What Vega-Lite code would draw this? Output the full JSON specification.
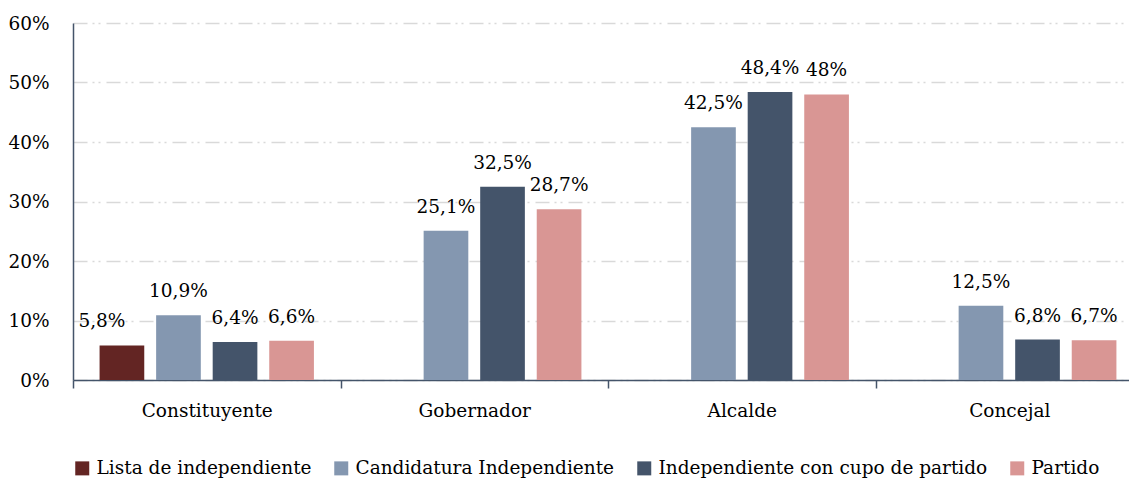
{
  "$schema": "https://vega.github.io/schema/vega-lite/v6.json",
  "width": 1056,
  "height": 357,
  "autosize": {"type": "none"},
  "padding": {"left": 73, "top": 23, "right": 0, "bottom": 98},
  "background": "white",
  "data": {
    "values": [
      {"cargo": "Constituyente", "tipo": "Lista de independiente", "pct": 0.058},
      {"cargo": "Constituyente", "tipo": "Candidatura Independiente", "pct": 0.109},
      {"cargo": "Constituyente", "tipo": "Independiente con cupo de partido", "pct": 0.064},
      {"cargo": "Constituyente", "tipo": "Partido", "pct": 0.066},
      {"cargo": "Gobernador", "tipo": "Candidatura Independiente", "pct": 0.251},
      {"cargo": "Gobernador", "tipo": "Independiente con cupo de partido", "pct": 0.325},
      {"cargo": "Gobernador", "tipo": "Partido", "pct": 0.287},
      {"cargo": "Alcalde", "tipo": "Candidatura Independiente", "pct": 0.425},
      {"cargo": "Alcalde", "tipo": "Independiente con cupo de partido", "pct": 0.484},
      {"cargo": "Alcalde", "tipo": "Partido", "pct": 0.48},
      {"cargo": "Concejal", "tipo": "Candidatura Independiente", "pct": 0.125},
      {"cargo": "Concejal", "tipo": "Independiente con cupo de partido", "pct": 0.068},
      {"cargo": "Concejal", "tipo": "Partido", "pct": 0.067}
    ]
  },
  "encoding": {
    "x": {
      "field": "cargo",
      "type": "nominal",
      "sort": ["Constituyente", "Gobernador", "Alcalde", "Concejal"],
      "scale": {"range": [0, 1070], "paddingInner": 0, "paddingOuter": 0},
      "axis": {
        "title": null,
        "labelAngle": 0,
        "labelFont": "DejaVu Serif",
        "labelFontSize": 18.5,
        "labelColor": "#000000",
        "labelPadding": 13,
        "domainColor": "#44546a",
        "domainWidth": 1.5,
        "tickColor": "#44546a",
        "tickWidth": 1.5,
        "tickSize": 8,
        "tickBand": "extent",
        "grid": false
      }
    },
    "xOffset": {
      "field": "tipo",
      "type": "nominal",
      "sort": ["Lista de independiente", "Candidatura Independiente", "Independiente con cupo de partido", "Partido"],
      "scale": {"paddingInner": 0.21, "paddingOuter": 0.47}
    },
    "y": {
      "field": "pct",
      "type": "quantitative",
      "scale": {"domain": [0, 0.6], "nice": false},
      "axis": {
        "title": null,
        "format": ".0%",
        "values": [0, 0.1, 0.2, 0.3, 0.4, 0.5, 0.6],
        "ticks": false,
        "labelPadding": 24,
        "labelFont": "DejaVu Serif",
        "labelFontSize": 18.5,
        "labelColor": "#000000",
        "domainColor": "#44546a",
        "domainWidth": 1.5,
        "grid": true,
        "gridColor": "#d9d9d9",
        "gridWidth": 1.5,
        "gridDash": [14, 5, 2, 4, 2, 6]
      }
    }
  },
  "layer": [
    {
      "mark": {"type": "bar"},
      "encoding": {
        "color": {
          "field": "tipo",
          "type": "nominal",
          "scale": {
            "domain": ["Lista de independiente", "Candidatura Independiente", "Independiente con cupo de partido", "Partido"],
            "range": ["#632523", "#8497b0", "#44546a", "#d99694"]
          },
          "legend": {
            "title": null,
            "orient": "none",
            "legendX": 0,
            "legendY": 436,
            "direction": "horizontal",
            "symbolType": "square",
            "symbolSize": 196,
            "symbolStrokeWidth": 0,
            "symbolOpacity": 1,
            "labelFont": "DejaVu Serif",
            "labelFontSize": 18.5,
            "labelColor": "#000000",
            "labelLimit": 500,
            "labelOffset": 5,
            "columnPadding": 20
          }
        }
      }
    },
    {
      "transform": [{"filter": "datum.tipo !== 'Lista de independiente'"}],
      "mark": {"type": "text", "baseline": "middle", "dy": -24, "font": "DejaVu Serif", "fontSize": 18.5, "color": "#000000"},
      "encoding": {"text": {"field": "pct", "type": "quantitative", "format": ".1~%"}}
    },
    {
      "transform": [{"filter": "datum.tipo === 'Lista de independiente'"}],
      "mark": {"type": "text", "baseline": "middle", "dy": -24, "dx": -20, "font": "DejaVu Serif", "fontSize": 18.5, "color": "#000000"},
      "encoding": {"text": {"field": "pct", "type": "quantitative", "format": ".1~%"}}
    }
  ],
  "config": {
    "view": {"stroke": null},
    "locale": {
      "number": {"decimal": ",", "thousands": ".", "grouping": [3], "currency": ["", " €"]}
    }
  }
}
